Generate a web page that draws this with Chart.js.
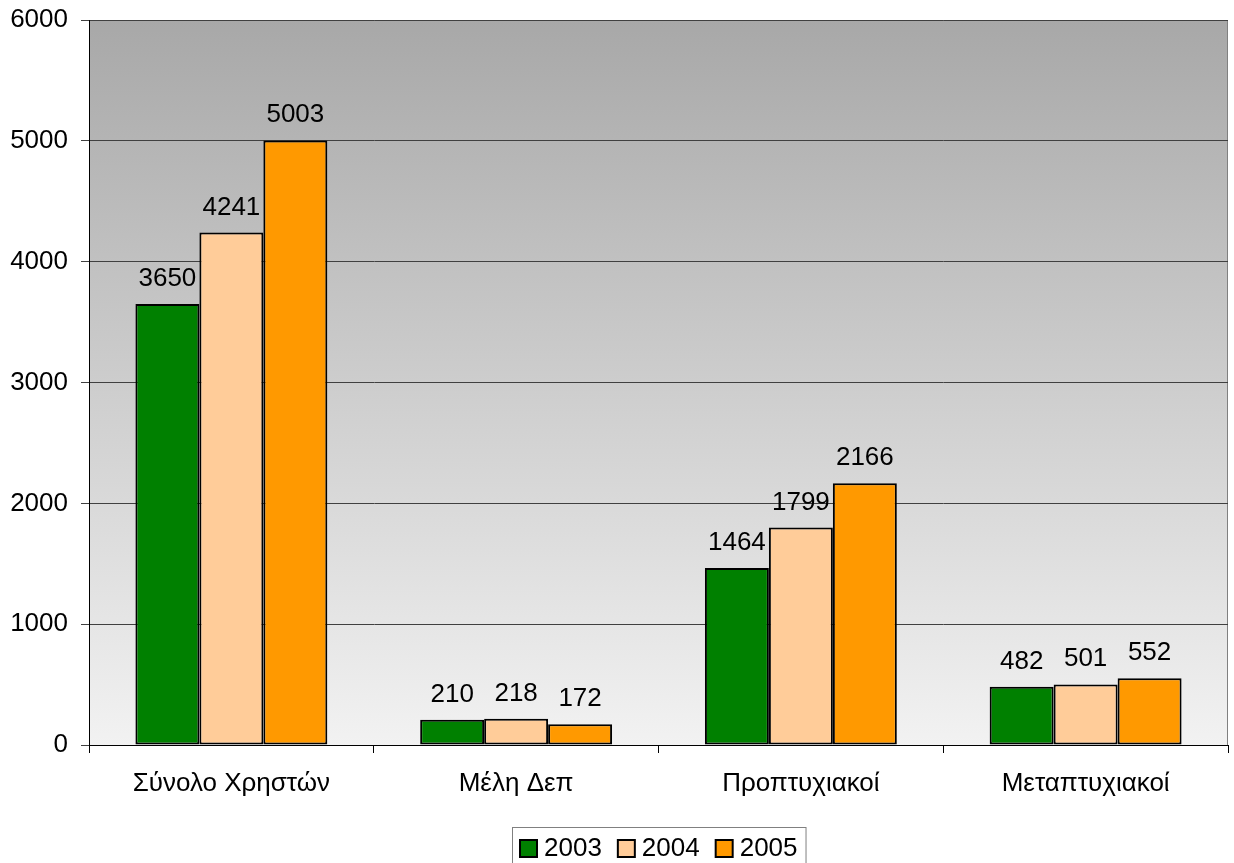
<!DOCTYPE html>
<html>
<head>
<meta charset="utf-8">
<script src="https://cdn.jsdelivr.net/npm/chart.js@4/dist/chart.umd.min.js"></script>
<style>
  body { margin: 0; background: #fff; }
  #chart { display: block; }
</style>
</head>
<body>
<canvas id="chart" width="1234" height="863"></canvas>
<script>
// data
const categories = ['Σύνολο Χρηστών', 'Μέλη Δεπ', 'Προπτυχιακοί', 'Μεταπτυχιακοί'];
const years = ['2003', '2004', '2005'];
const values2003 = [3650, 210, 1464, 482];
const values2004 = [4241, 218, 1799, 501];
const values2005 = [5003, 172, 2166, 552];
const yMin = 0;
const yMax = 6000;
const yStep = 1000;

const colors = ['#008000', '#FFCC99', '#FF9900'];
const FONT = 'Arial, "Liberation Sans", sans-serif';
const FONT_SIZE = 26;

// gray gradient behind the plot area + thin frame
const plotBackground = {
  id: 'plotBackground',
  beforeDraw(chart) {
    const { ctx, chartArea: { left, top, right, bottom } } = chart;
    const g = ctx.createLinearGradient(0, top, 0, bottom);
    g.addColorStop(0, '#a8a8a8');
    g.addColorStop(1, '#f2f2f2');
    ctx.save();
    ctx.fillStyle = g;
    ctx.fillRect(left, top, right - left, bottom - top);
    ctx.strokeStyle = '#808080';
    ctx.lineWidth = 1;
    ctx.beginPath();
    ctx.moveTo(left, top + 0.5);
    ctx.lineTo(right - 0.5, top + 0.5);
    ctx.lineTo(right - 0.5, bottom);
    ctx.stroke();
    ctx.restore();
  }
};

// value labels above each bar
const barValues = {
  id: 'barValues',
  afterDatasetsDraw(chart) {
    const { ctx } = chart;
    ctx.save();
    ctx.font = `${FONT_SIZE}px ${FONT}`;
    ctx.fillStyle = '#000';
    ctx.textAlign = 'center';
    ctx.textBaseline = 'alphabetic';
    chart.data.datasets.forEach((ds, i) => {
      const meta = chart.getDatasetMeta(i);
      meta.data.forEach((bar, j) => {
        ctx.fillText(String(ds.data[j]), bar.x, bar.y - 18);
      });
    });
    ctx.restore();
  }
};

// boxed legend under the axis
const boxedLegend = {
  id: 'boxedLegend',
  afterDraw(chart) {
    const { ctx } = chart;
    const box = 17, gap = 7, spacing = 16, pad = 8;
    ctx.save();
    ctx.font = `${FONT_SIZE}px ${FONT}`;
    const items = chart.data.datasets.map(ds => ({
      label: ds.label,
      color: ds.backgroundColor,
      w: ctx.measureText(ds.label).width
    }));
    let total = pad * 2;
    items.forEach((it, i) => {
      total += box + gap + it.w + (i < items.length - 1 ? spacing : 0);
    });
    const x0 = Math.round(658.5 - total / 2);
    const y0 = 827;
    ctx.strokeStyle = '#808080';
    ctx.lineWidth = 1;
    ctx.strokeRect(x0 + 0.5, y0 + 0.5, total, 50);
    let x = x0 + pad;
    const cy = 848;
    ctx.textBaseline = 'middle';
    ctx.textAlign = 'left';
    items.forEach(it => {
      ctx.fillStyle = it.color;
      ctx.fillRect(x, cy - 8, box, box);
      ctx.strokeStyle = '#000';
      ctx.lineWidth = 2;
      ctx.strokeRect(x, cy - 8, box, box);
      ctx.fillStyle = '#000';
      ctx.fillText(it.label, x + box + gap, cy + 1);
      x += box + gap + it.w + spacing;
    });
    ctx.restore();
  }
};

const seriesValues = [values2003, values2004, values2005];

new Chart(document.getElementById('chart'), {
  type: 'bar',
  data: {
    labels: categories,
    datasets: years.map((y, i) => ({
      label: y,
      data: seriesValues[i],
      backgroundColor: colors[i],
      borderColor: '#000',
      borderWidth: 2,
      borderSkipped: false,
      categoryPercentage: 0.674,
      barPercentage: 1
    }))
  },
  options: {
    responsive: false,
    devicePixelRatio: 1,
    animation: false,
    layout: {
      padding: { top: 20, right: 6, left: 0, bottom: 0 }
    },
    scales: {
      x: {
        afterFit: (s) => { s.height = 118; s.paddingLeft = 0; s.paddingRight = 0; },
        grid: {
          offset: true,
          drawOnChartArea: false,
          drawTicks: true,
          tickLength: 8,
          color: '#000'
        },
        border: { color: '#000', width: 1 },
        ticks: {
          color: '#000',
          padding: 15,
          font: { family: FONT, size: FONT_SIZE }
        }
      },
      y: {
        min: yMin,
        max: yMax,
        afterFit: (s) => { s.width = 89; s.paddingTop = 0; s.paddingBottom = 0; },
        grid: {
          color: '#404040',
          lineWidth: 1,
          drawTicks: true,
          tickLength: 8
        },
        border: { color: '#000', width: 1 },
        ticks: {
          stepSize: yStep,
          color: '#000',
          padding: 13,
          font: { family: FONT, size: FONT_SIZE },
          callback: (v) => String(v)
        }
      }
    },
    plugins: {
      legend: { display: false },
      tooltip: { enabled: false }
    }
  },
  plugins: [plotBackground, barValues, boxedLegend]
});
</script>
</body>
</html>
